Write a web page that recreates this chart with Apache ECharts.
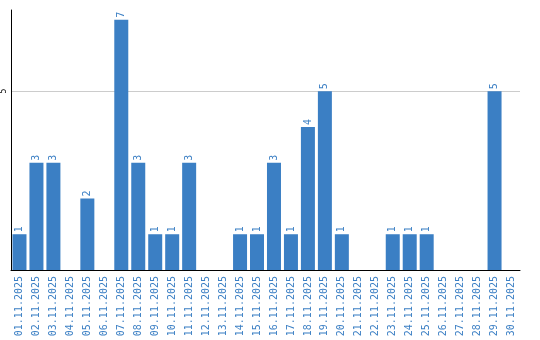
<!DOCTYPE html>
<html><head><meta charset="utf-8">
<script src="https://cdn.jsdelivr.net/npm/echarts@6/dist/echarts.min.js"></script>
<style>html,body{margin:0;padding:0;background:#fff}#c{width:540px;height:340px}</style>
</head><body><div id="c"></div>
<script>
const categories = ['01.11.2025','02.11.2025','03.11.2025','04.11.2025','05.11.2025','06.11.2025','07.11.2025','08.11.2025','09.11.2025','10.11.2025','11.11.2025','12.11.2025','13.11.2025','14.11.2025','15.11.2025','16.11.2025','17.11.2025','18.11.2025','19.11.2025','20.11.2025','21.11.2025','22.11.2025','23.11.2025','24.11.2025','25.11.2025','26.11.2025','27.11.2025','28.11.2025','29.11.2025','30.11.2025'];
const values = [1,3,3,0,2,0,7,3,1,1,3,0,0,1,1,3,1,4,5,1,0,0,1,1,1,0,0,0,5,0];
const blue = '#3b7fc4';
const chart = echarts.init(document.getElementById('c'), null, {renderer:'canvas'});
chart.setOption({
  animation:false,
  grid:{left:10,right:20,top:10,bottom:70,containLabel:false},
  xAxis:{type:'category',data:categories,
    axisLine:{show:true,lineStyle:{color:'#000',width:1}},
    axisTick:{show:false},
    axisLabel:{interval:0,rotate:90,fontSize:10,fontFamily:'DejaVu Sans Mono',color:blue,margin:6}},
  yAxis:{type:'value',min:0,max:7.27,interval:5,
    axisLine:{show:true,lineStyle:{color:'#000',width:1}},
    axisTick:{show:false},
    splitLine:{show:true,lineStyle:{color:['rgba(0,0,0,0)','#ccc','rgba(0,0,0,0)'],width:1}},
    axisLabel:{rotate:90,fontSize:8,fontFamily:'DejaVu Sans Mono',color:'#000',margin:3,
      formatter:function(v){return v===5?'5':'';}}},
  series:[{type:'bar',data:values.map(v=>v===0?null:v),barWidth:14,
    itemStyle:{color:blue},
    label:{show:true,position:'top',rotate:90,align:'left',verticalAlign:'middle',distance:2,
      fontSize:10,fontFamily:'DejaVu Sans Mono',color:blue}}]
});
</script></body></html>
